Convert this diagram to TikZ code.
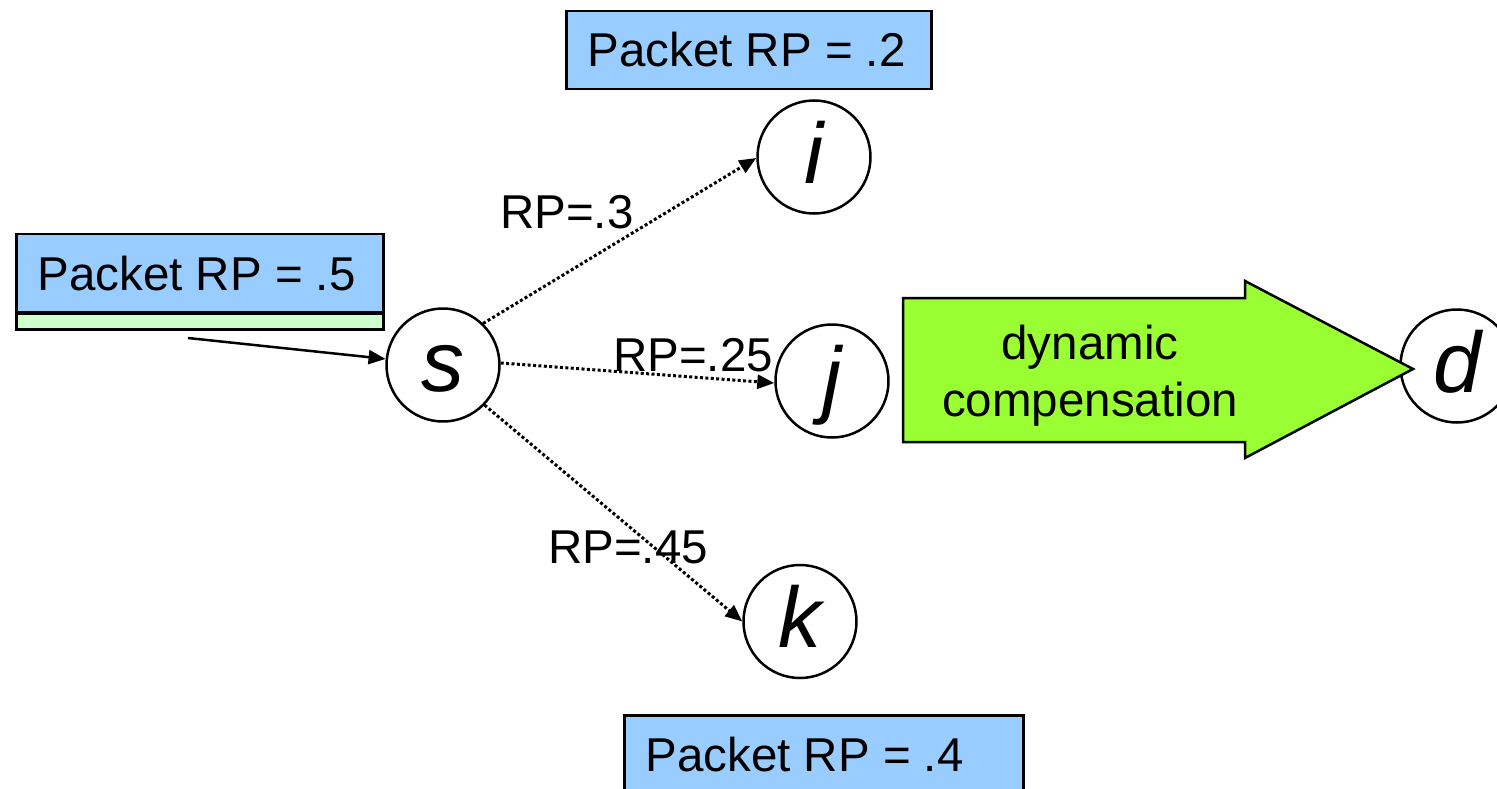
\documentclass[tikz,border=0pt]{standalone}
\usepackage{fontspec}
\setmainfont{Liberation Sans}
\usetikzlibrary{arrows.meta}
\definecolor{packetblue}{HTML}{99CCFF}
\definecolor{stripgreen}{HTML}{CCFFCC}
\definecolor{compgreen}{HTML}{99FF33}
\newcommand{\packettext}[2]{\makebox[#1][l]{#2}}
\begin{document}
\begin{tikzpicture}[x=1pt,y=-1pt,
  every node/.style={font=\fontsize{47.5}{57}\selectfont},
  peer/.style={circle, draw, line width=2.5pt, minimum size=113pt, inner sep=0pt,
    font=\fontsize{86}{100}\selectfont\itshape, text height=62pt, text depth=10pt},
  packet/.style={draw, line width=2.8pt, fill=packetblue, inner xsep=21pt, inner ysep=0pt,
    minimum height=78pt, text height=34pt, text depth=0pt},
  route/.style={line width=3pt, dash pattern=on 3pt off 2.4pt,
    -{Triangle[length=17pt,width=14pt]}},
  rplabel/.style={anchor=base west, inner sep=0pt}
]
\clip (0,0) rectangle (1497,789);

% packet boxes
\node[packet] (p2) at (749,50) {\packettext{323pt}{Packet RP = .2}};
\node[packet] (p5) at (200,273) {\packettext{325pt}{Packet RP = .5}};
\node[draw, line width=2.8pt, fill=stripgreen, minimum width=367pt, minimum height=16pt,
  inner sep=0pt, text height=0pt, text depth=0pt] (strip) at (200,321.5) {};
\node[packet] (p4) at (824,754.4) {\packettext{357pt}{Packet RP = .4}};

% nodes
\node[peer] (s) at (443,365) {s};
\node[peer] (i) at (814,157) {i};
\node[peer] (j) at (832,381) {j};
\node[peer] (k) at (800,621.5) {k};
\node[peer] (d) at (1457,366) {d};

% incoming packet
\coordinate (in) at (188,338);
\draw[line width=2.5pt, -{Triangle[length=17pt,width=14pt]}] (in) -- (s);

% routes
\draw[route] (s.46) -- (i.181);
\draw[route] (s.2) -- (j.182);
\draw[route] (s.-44) -- (k.180);

\node[rplabel] (li) at (500,228) {RP=.3};
\node[rplabel] (lj) at (613,371) {RP=.25};
\node[rplabel] (lk) at (548,563) {RP=.45};

% compensation arrow
\draw[line width=2.5pt, fill=compgreen]
  (903,298) -- (1245,298) -- (1245,281) -- (1413,369) -- (1245,458)
  -- (1245,442) -- (903,442) -- cycle;
\node[align=center, inner sep=0pt] (comp) at (1090,376) {dynamic\\compensation};
\end{tikzpicture}
\end{document}
